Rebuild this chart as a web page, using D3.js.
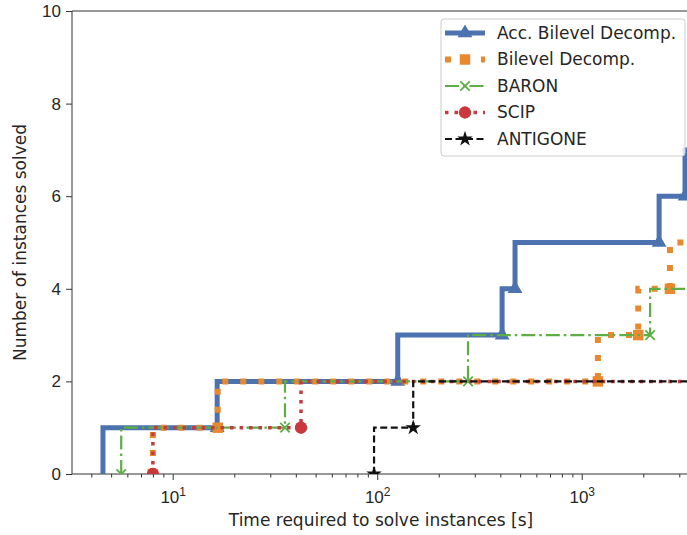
<!DOCTYPE html>
<html>
<head>
<meta charset="utf-8">
<script src="https://cdn.jsdelivr.net/npm/d3@7"></script>
<style>
  body { margin: 0; background: #fff; }
  svg { display: block; font-family: "DejaVu Sans", sans-serif; }
</style>
</head>
<body>
<svg id="chart" width="687" height="535"></svg>
<script>
// Solve times [s] and the cumulative number of instances solved at each time.
const accBilevelTimes  = [4.56, 16.5, 126, 408, 472, 2390, 3200, 3600];
const accBilevelSolved = [0, 1, 2, 3, 4, 5, 6, 7];
const bilevelTimes     = [8.0, 16.6, 1200, 1890, 2700, 3600];
const bilevelSolved    = [0, 1, 2, 3, 4, 5];
const baronTimes       = [5.6, 35.4, 278, 2160, 3600];
const baronSolved      = [0, 1, 2, 3, 4];
const scipTimes        = [8.0, 42.4, 3600];
const scipSolved       = [0, 1, 2];
const antigoneTimes    = [96.5, 150, 3600];
const antigoneSolved   = [0, 1, 2];

const seriesNames = ["Acc. Bilevel Decomp.", "Bilevel Decomp.", "BARON", "SCIP", "ANTIGONE"];
const yTicks = [0, 2, 4, 6, 8, 10];
const xMajorTicks = [10, 100, 1000];

const series = [
  { name: seriesNames[0], t: accBilevelTimes, n: accBilevelSolved, color: "#4C72B0", width: 5, dash: null,
    symbol: d3.symbolTriangle, size: 95, fill: true, firstMarker: 1 },
  { name: seriesNames[1], t: bilevelTimes, n: bilevelSolved, color: "#E8892F", width: 6, dash: "6,12",
    symbol: d3.symbolSquare, size: 110, fill: true, firstMarker: 0 },
  { name: seriesNames[2], t: baronTimes, n: baronSolved, color: "#5DAF45", width: 2.2, dash: "14,4,2.5,4",
    symbol: d3.symbolX, size: 60, fill: false, firstMarker: 0 },
  { name: seriesNames[3], t: scipTimes, n: scipSolved, color: "#C8383D", width: 3.5, dash: "3.5,6",
    symbol: d3.symbolCircle, size: 120, fill: true, firstMarker: 0 },
  { name: seriesNames[4], t: antigoneTimes, n: antigoneSolved, color: "#111111", width: 2.2, dash: "7,3.5",
    symbol: d3.symbolStar, size: 75, fill: true, firstMarker: 0 }
];

const svg = d3.select("#chart");
const margin = { left: 72, top: 11, right: 694, bottom: 474 };

const x = d3.scaleLog().domain([3.218, 3540]).range([margin.left, margin.right]);
const y = d3.scaleLinear().domain([0, 10]).range([margin.bottom, margin.top]);

const textColor = "#262626";
const axisColor = "#333";
const fontSize = "17px";

svg.append("defs").append("clipPath").attr("id", "plotClip")
  .append("rect")
  .attr("x", margin.left).attr("y", margin.top)
  .attr("width", margin.right - margin.left).attr("height", margin.bottom - margin.top);

// Axes
const xAxis = d3.axisBottom(x)
  .tickValues(xMajorTicks)
  .tickSize(6)
  .tickFormat("");
const gx = svg.append("g").attr("transform", `translate(0,${margin.bottom})`).call(xAxis);

// Minor ticks of the log axis
const minorTicks = x.ticks().filter(v => !xMajorTicks.includes(v));
const gxm = svg.append("g").attr("transform", `translate(0,${margin.bottom})`)
  .call(d3.axisBottom(x).tickValues(minorTicks).tickSize(3.5).tickFormat(""));

const gy = svg.append("g").attr("transform", `translate(${margin.left},0)`)
  .call(d3.axisLeft(y).tickValues(yTicks).tickSize(6).tickPadding(5));

[gx, gxm, gy].forEach(g => {
  g.select(".domain").remove();
  g.selectAll(".tick line").attr("stroke", axisColor).attr("stroke-width", 1);
});
gy.selectAll(".tick text").attr("fill", textColor).style("font-size", fontSize);

// Power-of-ten tick labels
gx.selectAll(".tick").each(function (d) {
  const t = d3.select(this).append("text")
    .attr("y", 29).attr("text-anchor", "middle").attr("fill", textColor)
    .style("font-size", fontSize);
  t.append("tspan").text("10");
  t.append("tspan").attr("dy", -7).style("font-size", "12px").text(Math.round(Math.log10(d)));
});

// Spines (left, bottom, top)
svg.append("path")
  .attr("d", `M${margin.right},${margin.top}H${margin.left}V${margin.bottom}H${margin.right}`)
  .attr("fill", "none").attr("stroke", axisColor).attr("stroke-width", 1);

// Axis titles
svg.append("text")
  .attr("x", (margin.left + margin.right) / 2 - 2).attr("y", 526)
  .attr("text-anchor", "middle").attr("fill", textColor).style("font-size", fontSize)
  .text("Time required to solve instances [s]");
svg.append("text")
  .attr("transform", `translate(26,${(margin.top + margin.bottom) / 2}) rotate(-90)`)
  .attr("text-anchor", "middle").attr("fill", textColor).style("font-size", fontSize)
  .text("Number of instances solved");

// Step curves: the count rises at each solve time, then holds
const plot = svg.append("g").attr("clip-path", "url(#plotClip)");
const line = d3.line().curve(d3.curveStepBefore).x(d => x(d[0])).y(d => y(d[1]));

function drawMarker(g, s, px, py) {
  const m = g.append("path")
    .attr("d", d3.symbol().type(s.symbol).size(s.size)())
    .attr("transform", `translate(${px},${py})`);
  if (s.fill) m.attr("fill", s.color).attr("stroke", "none");
  else m.attr("fill", "none").attr("stroke", s.color).attr("stroke-width", 1.8);
}

series.forEach(s => {
  const pts = s.t.map((t, i) => [t, s.n[i]]);
  plot.append("path")
    .attr("d", line(pts))
    .attr("fill", "none")
    .attr("stroke", s.color)
    .attr("stroke-width", s.width)
    .attr("stroke-dasharray", s.dash)
    .attr("stroke-linejoin", "miter");
  pts.forEach((p, i) => {
    if (i >= s.firstMarker) drawMarker(plot, s, x(p[0]), y(p[1]));
  });
});

// Legend
const lg = svg.append("g");
lg.append("rect")
  .attr("x", 441).attr("y", 19).attr("width", 244).attr("height", 137).attr("rx", 3)
  .attr("fill", "#fff").attr("fill-opacity", 0.8).attr("stroke", "#ccc");
series.forEach((s, i) => {
  const yy = 33 + i * 26.5;
  lg.append("line")
    .attr("x1", 445).attr("x2", 485).attr("y1", yy).attr("y2", yy)
    .attr("stroke", s.color).attr("stroke-width", s.width)
    .attr("stroke-dasharray", s.dash);
  drawMarker(lg, s, 465, yy);
  lg.append("text")
    .attr("x", 497).attr("y", yy).attr("dy", "0.35em")
    .attr("fill", textColor).style("font-size", fontSize)
    .text(s.name);
});
</script>
</body>
</html>
